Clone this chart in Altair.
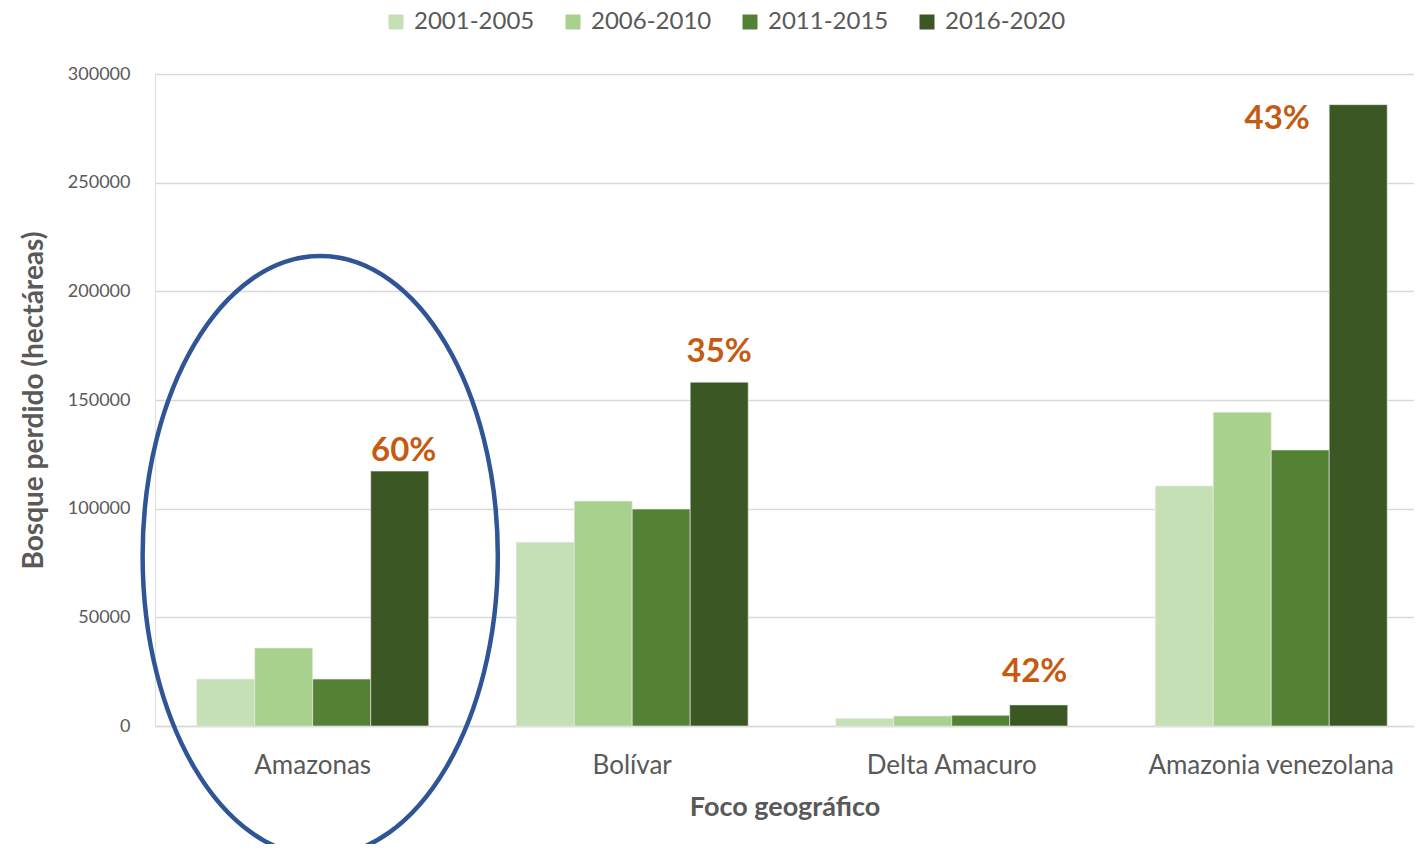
import altair as alt
import pandas as pd

categories = ["Amazonas", "Bolívar", "Delta Amacuro", "Amazonia venezolana"]
periods = ["2001-2005", "2006-2010", "2011-2015", "2016-2020"]
v2001_2005 = [21600, 84600, 3400, 110400]
v2006_2010 = [35900, 103500, 4600, 144400]
v2011_2015 = [21600, 99800, 4900, 127000]
v2016_2020 = [117300, 158200, 9700, 285900]
pct_labels = ["60%", "35%", "42%", "43%"]
colors = ["#C5E0B4", "#A9D18E", "#548235", "#3A5724"]

series = [v2001_2005, v2006_2010, v2011_2015, v2016_2020]
rows = []
for p, vals in zip(periods, series):
    for c, v in zip(categories, vals):
        rows.append({"Foco": c, "Periodo": p, "valor": v})
df = pd.DataFrame(rows)

lab_df = pd.DataFrame({"Foco": categories, "Periodo": ["2016-2020"] * 4,
                       "valor": v2016_2020, "label": pct_labels})
ell_df = pd.DataFrame({"Foco": ["Amazonas"]})

FONT = "Lato"
GREY = "#595959"

x_enc = alt.X("Foco:N", sort=categories,
              scale=alt.Scale(paddingInner=0.2739, paddingOuter=0.1072, align=0.609),
              axis=alt.Axis(title="Foco geográfico", labelAngle=0, ticks=False,
                            domainColor="#D9D9D9", domainWidth=1.5, labelLimit=500,
                            labelFontSize=26, labelColor=GREY, labelPadding=26,
                            titleFontSize=27, titleFontWeight="bold", titleColor=GREY,
                            titlePadding=16, labelFont=FONT, titleFont=FONT))
xo_enc = alt.XOffset("Periodo:N", sort=periods,
                     scale=alt.Scale(paddingInner=0, paddingOuter=0))
y_enc = alt.Y("valor:Q", scale=alt.Scale(domain=[0, 300000], nice=False),
              axis=alt.Axis(title="Bosque perdido (hectáreas)", values=[0, 50000, 100000, 150000, 200000, 250000, 300000],
                            format="d", domain=False, ticks=False, gridColor="#D9D9D9",
                            gridWidth=1.5, labelFontSize=18, labelColor=GREY,
                            labelPadding=25, titleFontSize=28, titleFontWeight="bold",
                            titleColor=GREY, titlePadding=19, labelFont=FONT, titleFont=FONT))

bars = alt.Chart(df).mark_bar(stroke="#EDEDED", strokeWidth=0.6).encode(
    x=x_enc, xOffset=xo_enc, y=y_enc,
    color=alt.Color("Periodo:N", sort=periods,
                    scale=alt.Scale(domain=periods, range=colors),
                    legend=alt.Legend(title=None, orient="none", direction="horizontal",
                                      legendX=229, legendY=-64,
                                      symbolType="square", symbolSize=225,
                                      symbolStrokeWidth=0, labelFontSize=24,
                                      labelColor=GREY, labelFont=FONT, labelOffset=6,
                                      columnPadding=26, labelLimit=300))
)

offsets = [(4, -20), (0, -30), (-4, -33), (-81, 14)]
text_layers = []
for cat, (ddx, ddy) in zip(categories, offsets):
    t = alt.Chart(lab_df).transform_filter(alt.datum.Foco == cat).mark_text(
        font=FONT, fontSize=33, fontWeight="bold", color="#C55A11",
        baseline="middle", align="center", dx=ddx, dy=ddy
    ).encode(x=alt.X("Foco:N", sort=categories), xOffset=alt.XOffset("Periodo:N", sort=periods),
             y="valor:Q", text="label:N")
    text_layers.append(t)

ellipse_path = "M -0.592 0 A 0.592 1 0 1 1 0.592 0 A 0.592 1 0 1 1 -0.592 0 Z"
ellipse = alt.Chart(ell_df).mark_point(
    shape=ellipse_path, size=360000, filled=False, color="#2F5597",
    strokeWidth=4.5, opacity=1, xOffset=7.5
).encode(x=alt.X("Foco:N", sort=categories), y=alt.value(482))

chart = alt.layer(bars, *text_layers, ellipse).properties(
    width=1259, height=652,
    autosize=alt.AutoSizeParams(type="none"),
    padding={"left": 147, "top": 66, "right": 0, "bottom": 118}
).configure_view(stroke=None).configure(font=FONT)

chart.save("out.html", embed_options={"renderer": "svg", "actions": False})
